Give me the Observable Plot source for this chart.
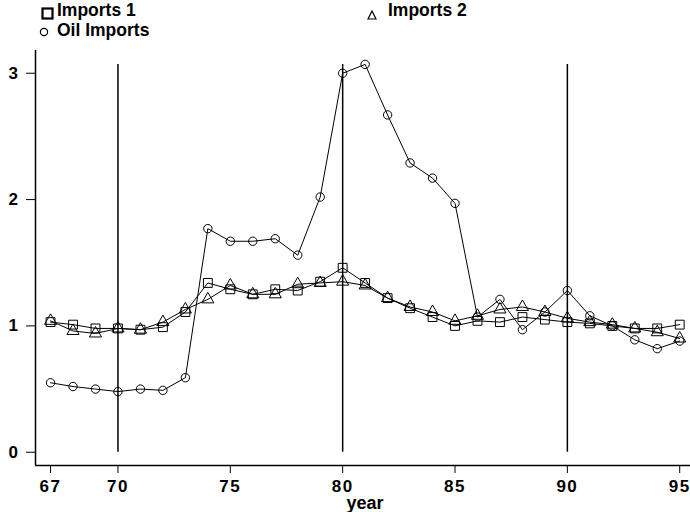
<!DOCTYPE html>
<html>
<head>
<meta charset="utf-8">
<script src="https://cdn.jsdelivr.net/npm/d3@7"></script>
<script src="https://cdn.jsdelivr.net/npm/@observablehq/plot@0.6"></script>
<style>
  body { margin: 0; background: #fff; }
  #wrap { position: relative; width: 690px; height: 512px; font-family: "Liberation Sans", Arial, sans-serif; font-weight: bold; color: #000; }
  .leg { position: absolute; font-size: 17.5px; line-height: 15px; white-space: nowrap; }
  #xlabel { position: absolute; font-size: 18px; line-height: 1; left: 0; width: 730px; text-align: center; top: 494px; }
</style>
</head>
<body>
<div id="wrap">
  <div id="chart"></div>
  <div class="leg" style="left:57px; top:3px;">Imports 1</div>
  <div class="leg" style="left:57px; top:23px;">Oil Imports</div>
  <div class="leg" style="left:388px; top:3px;">Imports 2</div>
  <svg style="position:absolute;left:0;top:0" width="690" height="50">
    <rect x="42.5" y="8.5" width="10" height="10" fill="none" stroke="#000" stroke-width="2.2"></rect>
    <circle cx="44" cy="32" r="3.6" fill="none" stroke="#000" stroke-width="1.2"></circle>
    <path d="M372,11 L376,19 L368,19 Z" fill="none" stroke="#000" stroke-width="1.2"></path>
  </svg>
  <div id="xlabel">year</div>
</div>
<script>
const years = [67,68,69,70,71,72,73,74,75,76,77,78,79,80,81,82,83,84,85,86,87,88,89,90,91,92,93,94,95];
const imports1 = [1.03,1.01,0.98,0.98,0.97,0.99,1.11,1.34,1.29,1.25,1.29,1.28,1.35,1.46,1.34,1.22,1.14,1.07,1.00,1.04,1.03,1.07,1.05,1.03,1.02,1.00,0.98,0.98,1.01];
const imports2 = [1.04,0.96,0.94,0.98,0.97,1.03,1.13,1.21,1.32,1.25,1.25,1.33,1.34,1.35,1.32,1.22,1.15,1.11,1.04,1.08,1.13,1.15,1.11,1.06,1.03,1.01,0.98,0.95,0.90];
const oilImports = [0.55,0.52,0.50,0.48,0.50,0.49,0.59,1.77,1.67,1.67,1.69,1.56,2.02,3.00,3.07,2.67,2.29,2.17,1.97,1.07,1.21,0.97,1.11,1.28,1.08,1.00,0.89,0.82,0.88];
const refYears = [70, 80, 90];
const xTicks = [67, 70, 75, 80, 85, 90, 95];
const yTicks = [0, 1, 2, 3];
const xDomain = [66.33, 95.48];
const yDomain = [-0.105, 3.18];
const refTop = 3.07;

const rows = [];
years.forEach((yr, i) => {
  rows.push({year: yr, value: imports1[i], series: "Imports 1"});
  rows.push({year: yr, value: imports2[i], series: "Imports 2"});
  rows.push({year: yr, value: oilImports[i], series: "Oil Imports"});
});
const s1 = rows.filter(d => d.series === "Imports 1");
const s2 = rows.filter(d => d.series === "Imports 2");
const s3 = rows.filter(d => d.series === "Oil Imports");

const chart = Plot.plot({
  width: 690,
  height: 512,
  marginLeft: 35,
  marginRight: 0,
  marginTop: 50,
  marginBottom: 47,
  style: {fontFamily: "Liberation Sans, Arial, sans-serif", fontSize: "17px", fontWeight: "bold", background: "#fff", color: "#000", letterSpacing: "1.5px"},
  x: {domain: xDomain, ticks: xTicks, tickSize: 8, tickPadding: 6, label: null, tickFormat: d => String(d)},
  y: {domain: yDomain, ticks: yTicks, tickSize: 9, tickPadding: 7, label: null, tickFormat: d => String(d)},
  marks: [
    Plot.ruleX(refYears, {y1: 0, y2: refTop, stroke: "#000", strokeWidth: 1.5}),
    Plot.ruleX([xDomain[0]], {y1: yDomain[0], y2: yDomain[1], stroke: "#000", strokeWidth: 1.5}),
    Plot.ruleY([yDomain[0]], {x1: xDomain[0], x2: xDomain[1], stroke: "#000", strokeWidth: 1.5}),
    Plot.line(rows, {x: "year", y: "value", z: "series", stroke: "#000", strokeWidth: 1}),
    Plot.dot(s1, {x: "year", y: "value", symbol: "square", r: 5, fill: "none", stroke: "#000", strokeWidth: 1}),
    Plot.dot(s2, {x: "year", y: "value", symbol: "triangle", r: 4.5, fill: "none", stroke: "#000", strokeWidth: 1}),
    Plot.dot(s3, {x: "year", y: "value", symbol: "circle", r: 4.2, fill: "none", stroke: "#000", strokeWidth: 1})
  ]
});
document.getElementById("chart").appendChild(chart);
</script>
</body>
</html>
